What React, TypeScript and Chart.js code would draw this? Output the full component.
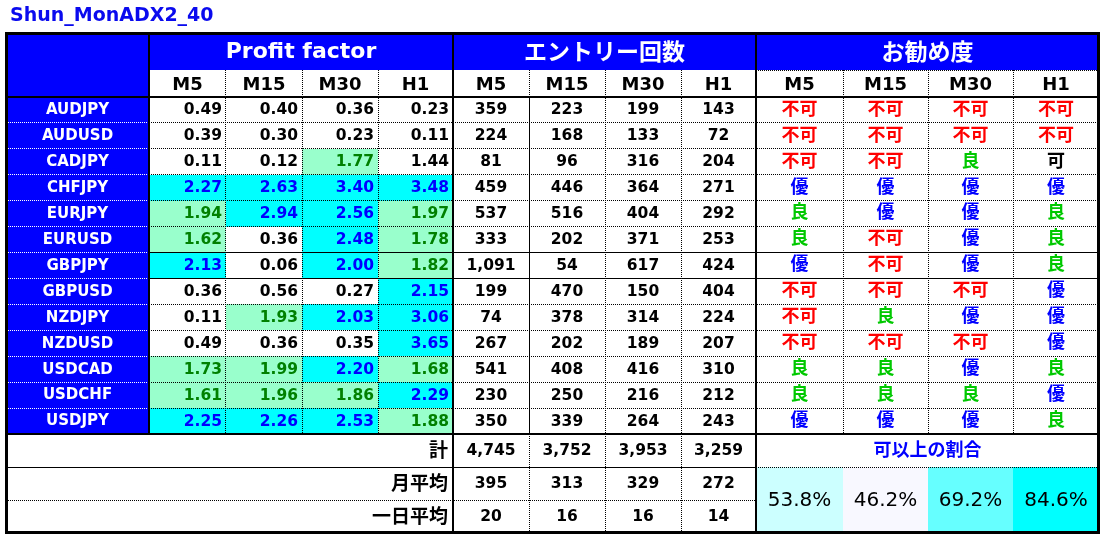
import React, { useEffect, useRef } from 'react';
import { Chart, registerables } from 'chart.js';

Chart.register(...registerables);

// ---------------- data ----------------
const TITLE = 'Shun_MonADX2_40';
const GROUPS = ['Profit factor', 'エントリー回数', 'お勧め度'];
const TIMEFRAMES = ['M5', 'M15', 'M30', 'H1'];
const PAIRS = ['AUDJPY', 'AUDUSD', 'CADJPY', 'CHFJPY', 'EURJPY', 'EURUSD', 'GBPJPY', 'GBPUSD', 'NZDJPY', 'NZDUSD', 'USDCAD', 'USDCHF', 'USDJPY'];

const PF_M5 = [0.49, 0.39, 0.11, 2.27, 1.94, 1.62, 2.13, 0.36, 0.11, 0.49, 1.73, 1.61, 2.25];
const PF_M15 = [0.40, 0.30, 0.12, 2.63, 2.94, 0.36, 0.06, 0.56, 1.93, 0.36, 1.99, 1.96, 2.26];
const PF_M30 = [0.36, 0.23, 1.77, 3.40, 2.56, 2.48, 2.00, 0.27, 2.03, 0.35, 2.20, 1.86, 2.53];
const PF_H1 = [0.23, 0.11, 1.44, 3.48, 1.97, 1.78, 1.82, 2.15, 3.06, 3.65, 1.68, 2.29, 1.88];

const ENTRY_M5 = [359, 224, 81, 459, 537, 333, 1091, 199, 74, 267, 541, 230, 350];
const ENTRY_M15 = [223, 168, 96, 446, 516, 202, 54, 470, 378, 202, 408, 250, 339];
const ENTRY_M30 = [199, 133, 316, 364, 404, 371, 617, 150, 314, 189, 416, 216, 264];
const ENTRY_H1 = [143, 72, 204, 271, 292, 253, 424, 404, 224, 207, 310, 212, 243];

const REC_M5 = ['不可', '不可', '不可', '優', '良', '良', '優', '不可', '不可', '不可', '良', '良', '優'];
const REC_M15 = ['不可', '不可', '不可', '優', '優', '不可', '不可', '不可', '良', '不可', '良', '良', '優'];
const REC_M30 = ['不可', '不可', '良', '優', '優', '優', '優', '不可', '優', '不可', '優', '良', '優'];
const REC_H1 = ['不可', '不可', '可', '優', '良', '良', '良', '優', '優', '優', '良', '優', '良'];

const FOOTER_LABELS = ['計', '月平均', '一日平均'];
const TOTALS = [4745, 3752, 3953, 3259];
const MONTHLY_AVG = [395, 313, 329, 272];
const DAILY_AVG = [20, 16, 16, 14];
const RATIO_LABEL = '可以上の割合';
const RATIOS = [53.8, 46.2, 69.2, 84.6];

// ---------------- layout / style ----------------
const TABLE_W = 1093;
const TABLE_H = 500;
const COL = [0, 143, 220, 296, 372, 447, 523, 599, 675, 750, 837, 922, 1007, 1093];
const HEAD1_B = 37;
const HEAD2_B = 64;
const ROW_PITCH = 25.92;
const FOOT = [401, 434, 467, 500];

const BLUE = '#0000FF';
const CYAN = '#00FFFF';
const LGREEN = '#99FFCC';
const DKGREEN = '#008000';
const GREEN = '#00C800';
const RED = '#FF0000';
const RATIO_BG = ['#CCFFFF', '#F8F8FF', '#66FFFF', '#00FFFF'];
const REC_COLOR: Record<string, string> = { '優': BLUE, '良': GREEN, '不可': RED, '可': '#000000' };

const LAT = '"DejaVu Sans", "Noto Sans", sans-serif';
const CJK = '"Noto Sans CJK JP", "Noto Sans", sans-serif';

const fmtInt = (n: number) => n.toLocaleString('en-US');

const tablePlugin = {
  id: 'tableCells',
  afterDraw(chart: any) {
    const ctx: CanvasRenderingContext2D = chart.ctx;
    const sx = chart.scales.x;
    const sy = chart.scales.y;
    const X = (v: number) => sx.getPixelForValue(v);
    const Y = (v: number) => sy.getPixelForValue(v);
    const crisp = (p: number, w: number) => (w % 2 === 1 ? Math.round(p - 0.5) + 0.5 : Math.round(p));

    const rect = (x0: number, y0: number, x1: number, y1: number, c: string) => {
      ctx.fillStyle = c;
      const a = Math.round(X(x0)), b = Math.round(Y(y0));
      ctx.fillRect(a, b, Math.round(X(x1)) - a, Math.round(Y(y1)) - b);
    };
    const hline = (y: number, x0: number, x1: number, w = 1, dash: number[] = [], c = '#000') => {
      ctx.save();
      ctx.strokeStyle = c; ctx.lineWidth = w; ctx.setLineDash(dash);
      const py = crisp(Y(y), w);
      ctx.beginPath(); ctx.moveTo(Math.round(X(x0)), py); ctx.lineTo(Math.round(X(x1)), py); ctx.stroke();
      ctx.restore();
    };
    const vline = (x: number, y0: number, y1: number, w = 1, dash: number[] = [], c = '#000') => {
      ctx.save();
      ctx.strokeStyle = c; ctx.lineWidth = w; ctx.setLineDash(dash);
      const px = crisp(X(x), w);
      ctx.beginPath(); ctx.moveTo(px, Math.round(Y(y0))); ctx.lineTo(px, Math.round(Y(y1))); ctx.stroke();
      ctx.restore();
    };
    const text = (s: string, x: number, y: number, font: string, color: string, align: CanvasTextAlign = 'center', dy = 0) => {
      ctx.save();
      ctx.font = font; ctx.fillStyle = color; ctx.textAlign = align; ctx.textBaseline = 'middle';
      ctx.fillText(s, X(x), Y(y) + dy);
      ctx.restore();
    };
    const rowTop = (i: number) => HEAD2_B + i * ROW_PITCH;
    const rowMid = (i: number) => HEAD2_B + (i + 0.5) * ROW_PITCH;
    const colMid = (c: number) => (COL[c] + COL[c + 1]) / 2;

    // title
    ctx.save();
    ctx.font = `bold 19px ${LAT}`; ctx.fillStyle = '#0A0AEE'; ctx.textAlign = 'left'; ctx.textBaseline = 'middle';
    ctx.fillText(TITLE, X(0) + 4, Y(0) - 16.5);
    ctx.restore();

    // backgrounds
    rect(0, 0, TABLE_W, TABLE_H, '#FFFFFF');
    rect(0, 0, TABLE_W, HEAD1_B, BLUE);
    rect(0, 0, COL[1], FOOT[0], BLUE);

    const PF = [PF_M5, PF_M15, PF_M30, PF_H1];
    const ENTRY = [ENTRY_M5, ENTRY_M15, ENTRY_M30, ENTRY_H1];
    const REC = [REC_M5, REC_M15, REC_M30, REC_H1];

    PF.forEach((series, t) => {
      series.forEach((v, i) => {
        const bg = v >= 2 ? CYAN : v >= 1.5 ? LGREEN : null;
        if (bg) rect(COL[1 + t], rowTop(i), COL[2 + t], rowTop(i + 1), bg);
      });
    });
    RATIOS.forEach((_, t) => rect(COL[9 + t], FOOT[1], COL[10 + t], FOOT[3], RATIO_BG[t]));

    // inner dotted lines
    const dot = [1, 1];
    for (let i = 1; i < PAIRS.length; i++) {
      const solid = i === 6 || i === 7;
      hline(rowTop(i), COL[1], TABLE_W, 1, solid ? [] : dot);
      hline(rowTop(i), 0, COL[1], 1, dot, '#FFFFFF');
    }
    [2, 3, 4].forEach((c) => vline(COL[c], HEAD1_B, FOOT[0], 1, dot));
    [6, 7, 8].forEach((c) => vline(COL[c], HEAD1_B, FOOT[3], 1, dot));
    vline(COL[6], HEAD2_B, FOOT[0], 1);
    [10, 11, 12].forEach((c) => vline(COL[c], HEAD1_B, FOOT[0], 1, dot));
    hline(HEAD1_B, COL[9], TABLE_W, 1, dot);
    hline(FOOT[1], 0, COL[9], 1);
    hline(FOOT[1], COL[9], TABLE_W, 1, dot);
    hline(FOOT[2], 0, COL[9], 1, dot);

    // thick structure lines
    hline(HEAD2_B, 0, TABLE_W, 2);
    hline(FOOT[0], 0, TABLE_W, 2);
    vline(COL[1], 0, FOOT[0], 2);
    vline(COL[5], 0, FOOT[3], 2);
    vline(COL[9], 0, FOOT[3], 2);
    // outer border
    ctx.save();
    ctx.strokeStyle = '#000'; ctx.lineWidth = 3;
    ctx.strokeRect(Math.round(X(0)) + 0.5, Math.round(Y(0)) + 0.5, Math.round(X(TABLE_W)) - Math.round(X(0)) - 1, Math.round(Y(TABLE_H)) - Math.round(Y(0)) - 1);
    ctx.restore();

    // header texts
    text(GROUPS[0], (COL[1] + COL[5]) / 2, HEAD1_B / 2, `bold 22px ${LAT}`, '#FFFFFF', 'center', 1);
    text(GROUPS[1], (COL[5] + COL[9]) / 2, HEAD1_B / 2, `bold 23px ${CJK}`, '#FFFFFF', 'center', -0.5);
    text(GROUPS[2], (COL[9] + COL[13]) / 2, HEAD1_B / 2, `bold 23px ${CJK}`, '#FFFFFF', 'center', -0.5);
    for (let g = 0; g < 3; g++) {
      TIMEFRAMES.forEach((tf, t) => text(tf, colMid(1 + g * 4 + t), (HEAD1_B + HEAD2_B) / 2, `bold 18px ${LAT}`, '#000', 'center', 2));
    }

    // rows
    PAIRS.forEach((p, i) => {
      const ym = rowMid(i);
      text(p, colMid(0), ym, `bold 15px ${LAT}`, '#FFFFFF', 'center', 0.5);
      PF.forEach((series, t) => {
        const v = series[i];
        const c = v >= 2 ? BLUE : v >= 1.5 ? DKGREEN : '#000';
        ctx.save();
        ctx.font = `bold 15.5px ${LAT}`; ctx.fillStyle = c; ctx.textAlign = 'right'; ctx.textBaseline = 'middle';
        ctx.fillText(v.toFixed(2), X(COL[2 + t]) - 4, Y(ym) + 0.5);
        ctx.restore();
      });
      ENTRY.forEach((series, t) => text(fmtInt(series[i]), colMid(5 + t), ym, `bold 15.5px ${LAT}`, '#000', 'center', 0.5));
      REC.forEach((series, t) => text(series[i], colMid(9 + t), ym, `bold 18px ${CJK}`, REC_COLOR[series[i]], 'center', -2));
    });

    // footer
    const footRows = [TOTALS, MONTHLY_AVG, DAILY_AVG];
    FOOTER_LABELS.forEach((lab, r) => {
      const ym = (FOOT[r] + FOOT[r + 1]) / 2;
      ctx.save();
      ctx.font = `bold 19px ${CJK}`; ctx.fillStyle = '#000'; ctx.textAlign = 'right'; ctx.textBaseline = 'middle';
      ctx.fillText(lab, X(COL[5]) - 5, Y(ym) - 1);
      ctx.restore();
      footRows[r].forEach((v, t) => text(fmtInt(v), colMid(5 + t), ym, `bold 15.5px ${LAT}`, '#000', 'center', 0.5));
    });
    text(RATIO_LABEL, (COL[9] + COL[13]) / 2, (FOOT[0] + FOOT[1]) / 2, `bold 18px ${CJK}`, BLUE, 'center', -1);
    RATIOS.forEach((r, t) => text(`${r.toFixed(1)}%`, colMid(9 + t), FOOT[2], `20px ${LAT}`, '#000', 'center', 1));
  },
};

export default function App() {
  const ref = useRef<HTMLCanvasElement | null>(null);
  useEffect(() => {
    if (!ref.current) return;
    const chart = new Chart(ref.current, {
      type: 'scatter',
      data: { datasets: [] },
      options: {
        animation: false,
        responsive: false,
        events: [],
        layout: { padding: { left: 6, top: 33, right: 7, bottom: 6 } },
        plugins: { legend: { display: false }, tooltip: { enabled: false }, title: { display: false } },
        scales: {
          x: { type: 'linear', min: 0, max: TABLE_W, display: false },
          y: { type: 'linear', min: 0, max: TABLE_H, reverse: true, display: false },
        },
      },
      plugins: [tablePlugin],
    });
    return () => chart.destroy();
  }, []);
  return (
    <canvas
      ref={ref}
      width={1106}
      height={539}
      style={{ position: 'absolute', left: 0, top: 0, width: 1106, height: 539, display: 'block' }}
    />
  );
}
